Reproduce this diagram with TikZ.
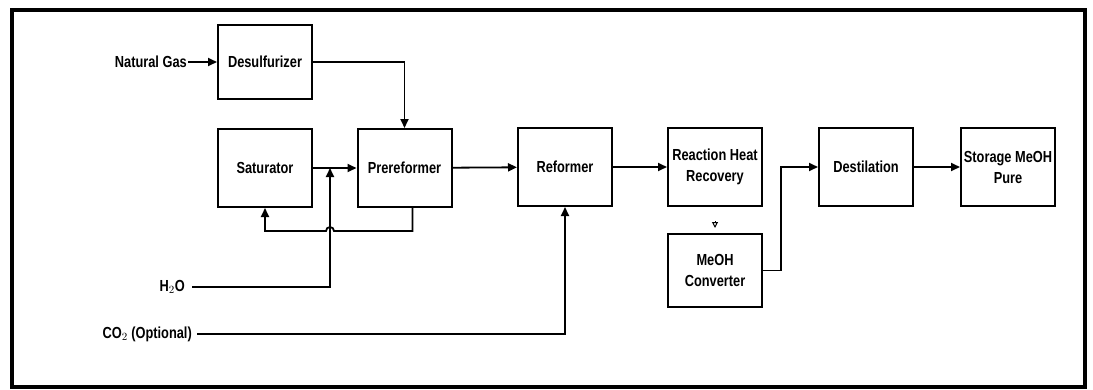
\documentclass[tikz,border=0pt]{standalone}
\usepackage{fontspec}
\setmainfont{Liberation Sans}[FakeStretch=0.8]
\usetikzlibrary{arrows.meta}

\tikzset{
  box/.style={draw, line width=2pt, minimum width=94pt, minimum height=78pt,
    align=center, inner sep=1pt, font=\fontsize{16}{21}\selectfont\bfseries},
  lbl/.style={font=\fontsize{16}{21}\selectfont\bfseries, inner sep=1pt},
  flow/.style={line width=1.8pt, -{Triangle[length=9pt,width=8pt]}},
  pipe/.style={line width=1.8pt}
}

\begin{document}
\begin{tikzpicture}[x=1pt, y=-1pt]
\useasboundingbox (0,0) rectangle (1093,389);

% frame
\draw[line width=3.5pt] (12,10) rectangle (1085,387);

% units
\node[box, minimum height=74pt] (desulf) at (265,62) {Desulfurizer};
\node[box] (sat) at (265,168) {Saturator};
\node[box] (prefm) at (404.5,168) {Prereformer};
\node[box] (reform) at (565,167) {Reformer};
\node[box] (rhr) at (715,167) {Reaction Heat\\Recovery};
\node[box, minimum height=73pt] (meoh) at (715,270.5) {MeOH\\Converter};
\node[box] (destil) at (866,167) {Destilation};
\node[box] (store) at (1008,167) {Storage MeOH\\Pure};

% feeds
\node[lbl, anchor=east] (ng) at (188,62) {Natural Gas};
\node[lbl, anchor=east] (water) at (186,287) {H$_2$O};
\node[lbl, anchor=east] (co2) at (193,334) {CO$_2$ (Optional)};

\coordinate (jn) at (330,168);

% streams
\draw[flow] (ng) -- (desulf);
\draw[flow] (desulf.east) -| (prefm.north);
\draw[flow] (sat) -- (prefm);
\draw[flow] ([xshift=8pt]prefm.south) |- (334,231) arc[start angle=0, end angle=-180, radius=4] -| (sat.south);
\draw[flow, shorten <=6pt] (water.east) -| (jn);
\draw[flow, shorten <=4pt] (co2.east) -| (reform.south);
\draw[flow] (prefm) -- (reform);
\draw[flow] (reform) -- (rhr);
\draw[line width=1pt, -{Triangle[open,length=6pt,width=6pt]}, shorten <=14pt, shorten >=5pt] (rhr) -- (meoh);
\draw[flow] (meoh.east) -- ++(18,0) |- (destil.west);
\draw[flow] (destil) -- (store);

\end{tikzpicture}
\end{document}
